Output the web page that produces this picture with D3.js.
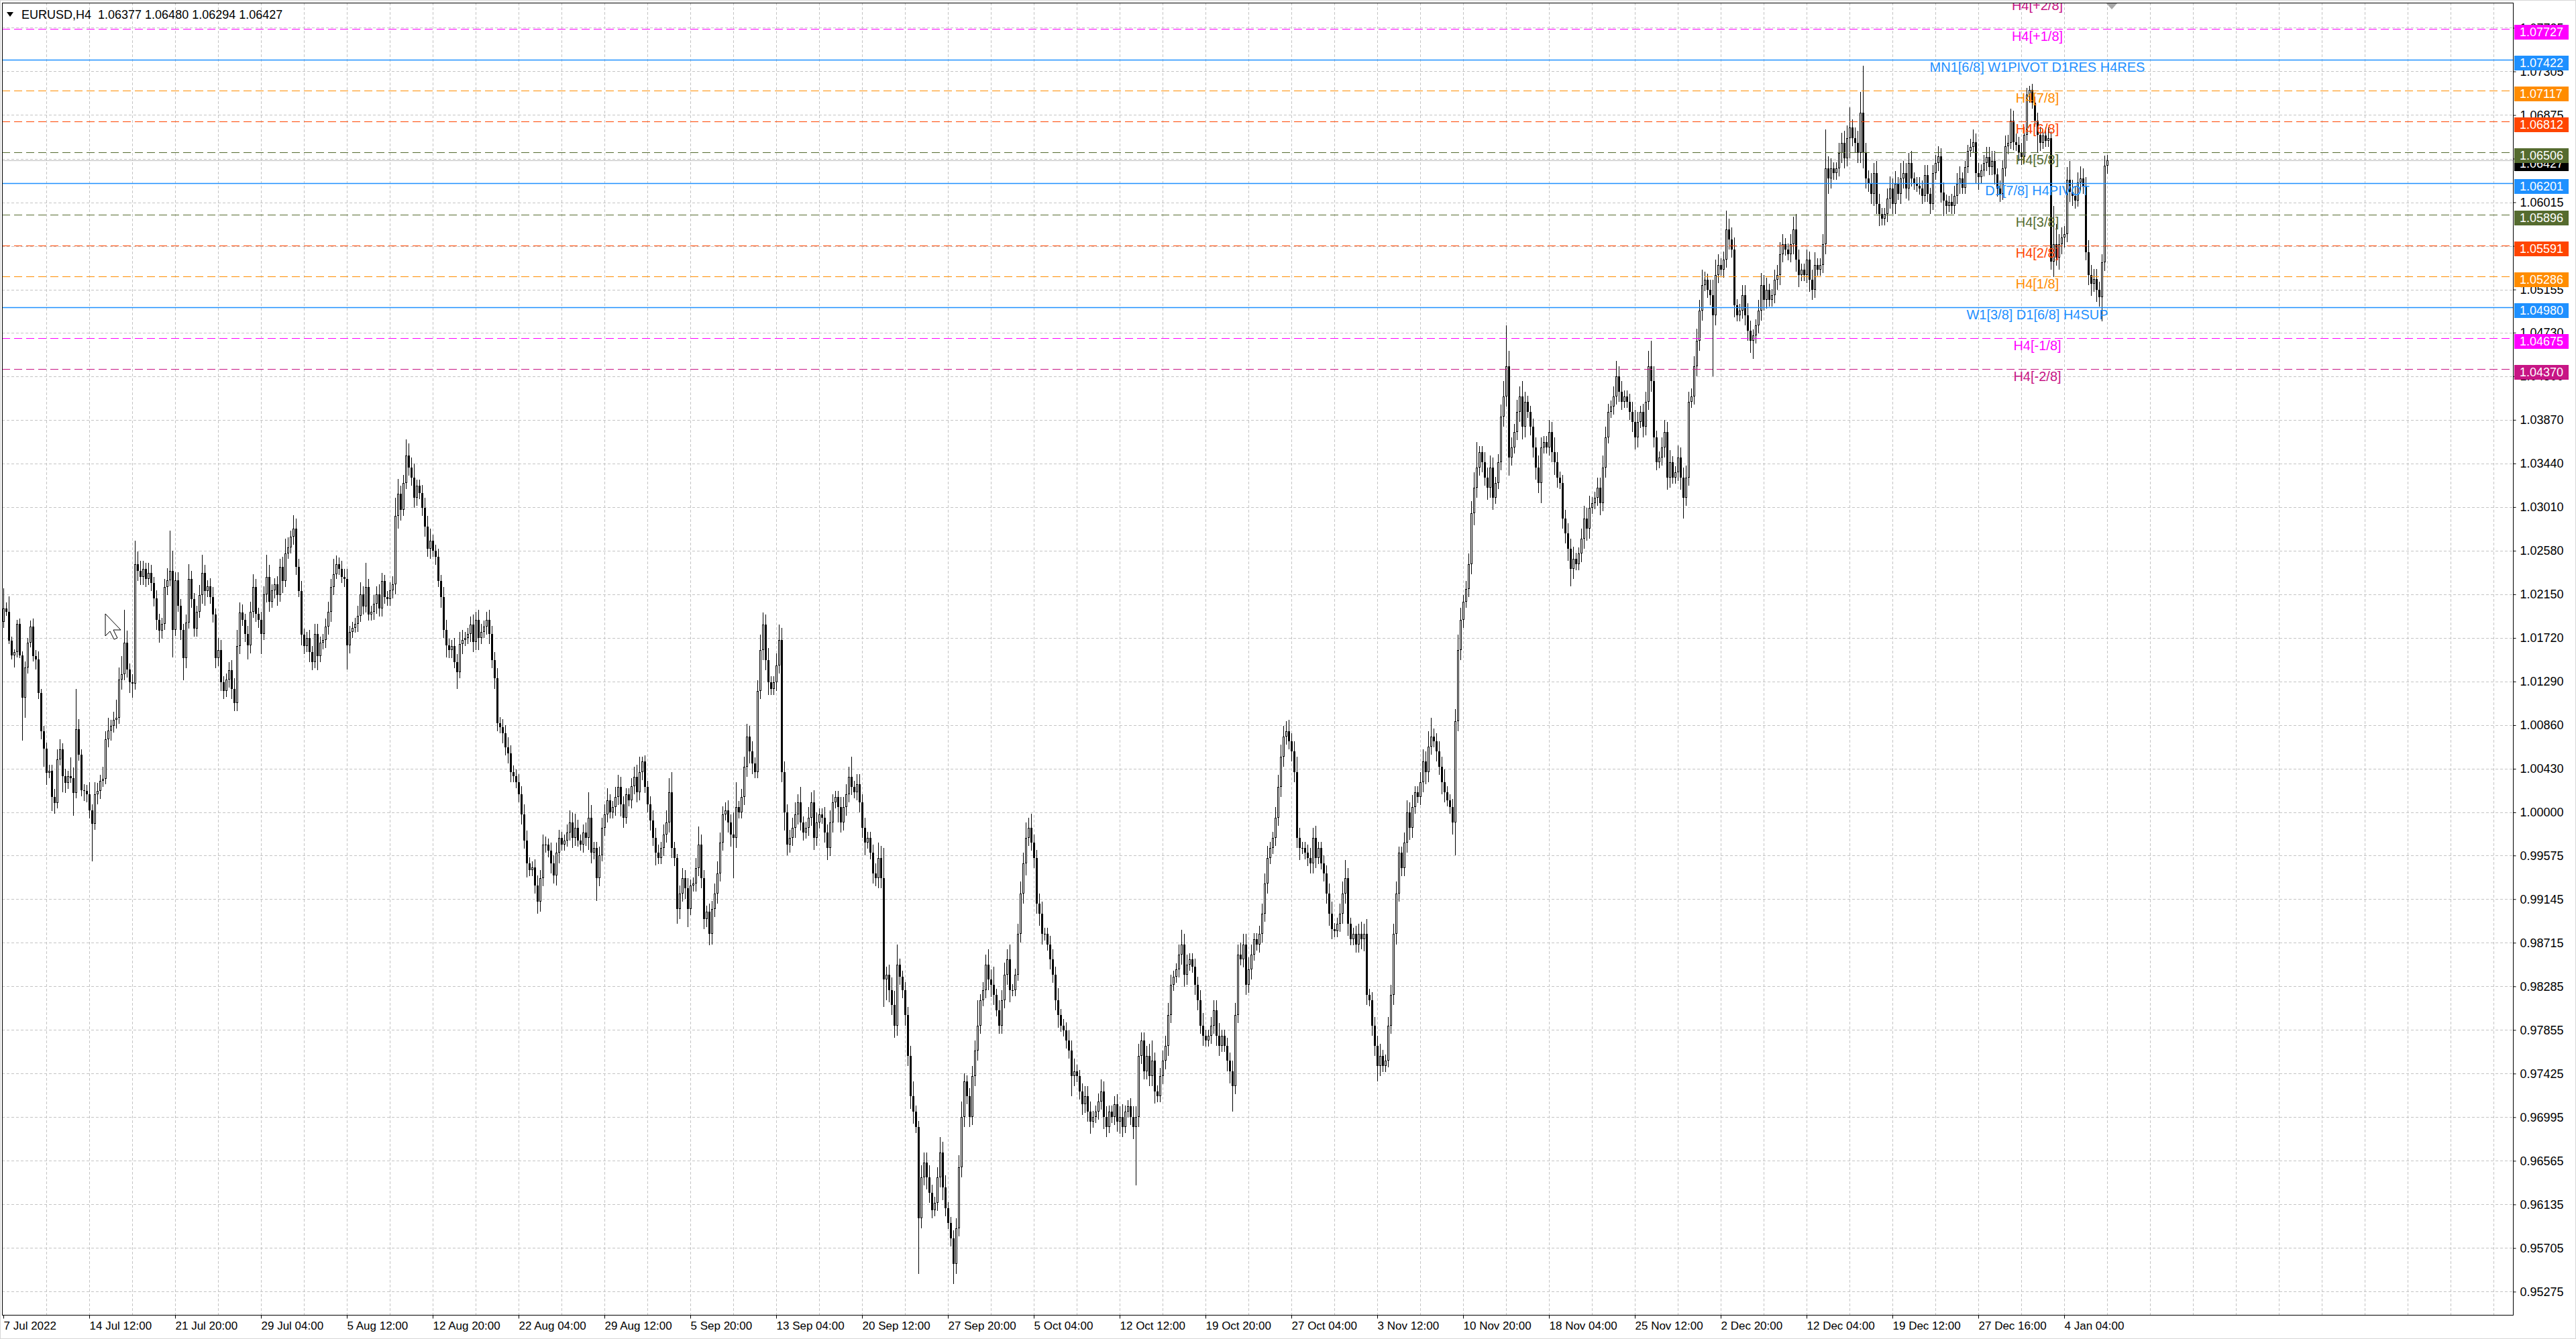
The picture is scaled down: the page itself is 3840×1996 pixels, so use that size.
<!DOCTYPE html>
<html><head><meta charset="utf-8"><title>EURUSD,H4</title>
<script src="https://cdn.jsdelivr.net/npm/d3@7/dist/d3.min.js"></script>
<style>html,body{margin:0;padding:0;background:#fff;overflow:hidden}svg{display:block}</style>
</head><body><script>
// ---------------- DATA ----------------
const symbolTitle = "EURUSD,H4";
const firstOpen = 1.0188;
// H4 closes, one line per trading day (7 Jul 2022 04:00 -> 6 Jan 2023 20:00)
const closes = [
1.0201,1.0198,1.0169,1.0155,1.0158,
1.0186,1.0155,1.0113,1.0143,1.0167,1.0183,
1.0154,1.0151,1.0118,1.0080,1.0063,1.0039,
1.0041,1.0015,1.0009,1.0052,1.0062,1.0036,
1.0029,1.0036,1.0034,1.0019,1.0082,1.0057,
1.0022,1.0021,1.0018,1.0002,0.9989,1.0018,
1.0021,1.0031,1.0033,1.0072,1.0081,1.0085,
1.0091,1.0093,1.0131,1.0136,1.0167,1.0141,
1.0128,1.0127,1.0245,1.0238,1.0232,1.0240,
1.0230,1.0236,1.0226,1.0211,1.0190,1.0179,
1.0186,1.0222,1.0229,1.0238,1.0180,1.0229,
1.0204,1.0180,1.0152,1.0187,1.0230,1.0210,
1.0181,1.0198,1.0214,1.0236,1.0218,1.0223,
1.0212,1.0195,1.0152,1.0160,1.0128,1.0120,
1.0131,1.0140,1.0122,1.0108,1.0164,1.0197,
1.0190,1.0176,1.0165,1.0198,1.0222,1.0196,
1.0190,1.0176,1.0215,1.0232,1.0208,1.0219,
1.0225,1.0214,1.0242,1.0228,1.0255,1.0261,
1.0272,1.0280,1.0242,1.0218,1.0175,1.0164,
1.0172,1.0158,1.0148,1.0176,1.0154,1.0167,
1.0170,1.0183,1.0198,1.0222,1.0235,1.0245,
1.0240,1.0232,1.0230,1.0165,1.0178,1.0182,
1.0186,1.0194,1.0215,1.0203,1.0222,1.0195,
1.0198,1.0206,1.0215,1.0201,1.0228,1.0212,
1.0210,1.0219,1.0225,1.0292,1.0314,1.0298,
1.0325,1.0352,1.0340,1.0330,1.0310,1.0322,
1.0315,1.0300,1.0282,1.0260,1.0268,1.0258,
1.0252,1.0228,1.0212,1.0180,1.0165,1.0160,
1.0164,1.0148,1.0138,1.0166,1.0170,1.0172,
1.0176,1.0185,1.0168,1.0190,1.0172,1.0178,
1.0183,1.0190,1.0176,1.0150,1.0132,1.0088,
1.0084,1.0078,1.0064,1.0058,1.0040,1.0036,
1.0030,1.0018,0.9998,0.9972,0.9950,0.9943,
0.9946,0.9928,0.9912,0.9935,0.9968,0.9968,
0.9962,0.9950,0.9938,0.9960,0.9975,0.9968,
0.9972,0.9980,0.9990,0.9975,0.9985,0.9972,
0.9968,0.9980,0.9975,0.9995,0.9960,0.9965,
0.9935,0.9958,0.9985,0.9998,1.0012,1.0000,
1.0005,1.0015,1.0025,1.0008,0.9995,1.0018,
1.0012,1.0026,1.0035,1.0020,1.0040,1.0050,
1.0025,1.0008,0.9992,0.9975,0.9960,0.9955,
0.9965,0.9978,0.9990,1.0020,0.9965,0.9955,
0.9905,0.9920,0.9935,0.9925,0.9905,0.9928,
0.9930,0.9945,0.9968,0.9935,0.9895,0.9902,
0.9880,0.9905,0.9920,0.9940,0.9970,0.9998,
1.0002,0.9990,0.9978,0.9975,1.0005,1.0000,
1.0015,1.0045,1.0075,1.0060,1.0048,1.0040,
1.0120,1.0160,1.0185,1.0150,1.0128,1.0122,
1.0128,1.0145,1.0170,1.0040,1.0000,0.9968,
0.9975,0.9985,0.9998,1.0010,0.9990,0.9980,
0.9985,0.9995,1.0010,0.9975,0.9990,0.9998,
0.9995,0.9980,0.9965,0.9990,1.0010,1.0015,
1.0005,0.9990,1.0005,1.0018,1.0035,1.0025,
1.0020,1.0028,1.0010,0.9985,0.9970,0.9975,
0.9960,0.9940,0.9935,0.9955,0.9935,0.9835,
0.9840,0.9825,0.9810,0.9790,0.9850,0.9838,
0.9825,0.9800,0.9760,0.9720,0.9705,0.9690,
0.9600,0.9640,0.9655,0.9640,0.9625,0.9608,
0.9615,0.9640,0.9665,0.9630,0.9610,0.9595,
0.9580,0.9555,0.9590,0.9650,0.9700,0.9735,
0.9720,0.9700,0.9740,0.9765,0.9790,0.9815,
0.9825,0.9850,0.9835,0.9830,0.9820,0.9805,
0.9790,0.9815,0.9840,0.9855,0.9825,0.9825,
0.9840,0.9880,0.9920,0.9950,0.9975,0.9985,
0.9970,0.9955,0.9910,0.9900,0.9880,0.9880,
0.9870,0.9855,0.9840,0.9815,0.9800,0.9790,
0.9785,0.9775,0.9765,0.9740,0.9745,0.9740,
0.9725,0.9712,0.9720,0.9705,0.9695,0.9700,
0.9705,0.9715,0.9725,0.9700,0.9690,0.9705,
0.9700,0.9712,0.9695,0.9700,0.9690,0.9705,
0.9710,0.9700,0.9690,0.9700,0.9760,0.9775,
0.9745,0.9760,0.9740,0.9755,0.9725,0.9720,
0.9740,0.9755,0.9770,0.9800,0.9830,0.9838,
0.9845,0.9860,0.9870,0.9840,0.9850,0.9855,
0.9848,0.9830,0.9815,0.9790,0.9780,0.9775,
0.9780,0.9790,0.9805,0.9780,0.9770,0.9780,
0.9770,0.9755,0.9745,0.9730,0.9800,0.9860,
0.9855,0.9870,0.9830,0.9845,0.9860,0.9875,
0.9870,0.9880,0.9900,0.9930,0.9955,0.9965,
0.9975,0.9995,1.0025,1.0055,1.0075,1.0080,
1.0070,1.0060,1.0040,0.9975,0.9965,0.9965,
0.9960,0.9955,0.9950,0.9975,0.9955,0.9965,
0.9950,0.9940,0.9920,0.9900,0.9885,0.9883,
0.9890,0.9900,0.9920,0.9935,0.9890,0.9875,
0.9880,0.9870,0.9880,0.9875,0.9880,0.9820,
0.9815,0.9790,0.9770,0.9750,0.9760,0.9750,
0.9755,0.9790,0.9820,0.9880,0.9920,0.9960,
0.9945,0.9970,1.0000,0.9985,1.0005,1.0020,
1.0015,1.0030,1.0050,1.0040,1.0065,1.0075,
1.0070,1.0060,1.0045,1.0030,1.0020,1.0012,
1.0005,0.9990,1.0090,1.0160,1.0190,1.0208,
1.0220,1.0245,1.0295,1.0320,1.0340,1.0355,
1.0345,1.0330,1.0320,1.0340,1.0310,1.0325,
1.0345,1.0390,1.0410,1.0440,1.0350,1.0360,
1.0375,1.0395,1.0410,1.0380,1.0405,1.0395,
1.0380,1.0360,1.0340,1.0325,1.0360,1.0365,
1.0360,1.0375,1.0355,1.0345,1.0330,1.0325,
1.0290,1.0275,1.0260,1.0240,1.0250,1.0245,
1.0255,1.0270,1.0290,1.0280,1.0300,1.0305,
1.0310,1.0320,1.0305,1.0340,1.0370,1.0395,
1.0400,1.0410,1.0430,1.0415,1.0405,1.0410,
1.0405,1.0395,1.0385,1.0370,1.0385,1.0395,
1.0380,1.0405,1.0440,1.0425,1.0370,1.0345,
1.0350,1.0360,1.0375,1.0330,1.0345,1.0330,
1.0335,1.0350,1.0330,1.0310,1.0330,1.0405,
1.0410,1.0440,1.0465,1.0495,1.0520,1.0525,
1.0515,1.0510,1.0490,1.0530,1.0540,1.0535,
1.0545,1.0575,1.0565,1.0555,1.0500,1.0490,
1.0495,1.0510,1.0490,1.0475,1.0465,1.0470,
1.0480,1.0495,1.0520,1.0505,1.0515,1.0505,
1.0510,1.0525,1.0530,1.0550,1.0560,1.0555,
1.0550,1.0560,1.0575,1.0545,1.0530,1.0535,
1.0530,1.0545,1.0525,1.0515,1.0540,1.0535,
1.0540,1.0560,1.0635,1.0625,1.0635,1.0630,
1.0635,1.0650,1.0660,1.0645,1.0665,1.0675,
1.0665,1.0660,1.0650,1.0690,1.0650,1.0625,
1.0620,1.0610,1.0630,1.0600,1.0590,1.0585,
1.0590,1.0605,1.0615,1.0600,1.0620,1.0610,
1.0625,1.0630,1.0615,1.0640,1.0625,1.0620,
1.0618,1.0615,1.0608,1.0628,1.0610,1.0600,
1.0630,1.0640,1.0647,1.0611,1.0603,1.0598,
1.0602,1.0598,1.0608,1.0620,1.0625,1.0616,
1.0636,
1.0652,1.0656,1.0661,1.0630,1.0626,1.0633,
1.0640,1.0646,1.0636,1.0642,1.0629,1.0615,
1.0610,1.0635,1.0657,1.0660,1.0682,1.0661,
1.0658,1.0650,1.0646,1.0668,1.0708,1.0712,
1.0700,1.0682,1.0668,1.0660,1.0667,
1.0662,1.0665,1.0543,1.0560,1.0547,1.0560,
1.0567,1.0570,1.0624,1.0612,1.0608,1.0603,
1.0621,1.0625,1.0618,1.0552,1.0530,1.0521,
1.0526,1.0515,1.0508,1.0542,1.06377,1.06427
];
// upper shadow above the body, in pips
const upWick = [
20,6,15,4,3,
4,5,4,6,5,6, 8,6,8,4,5,6, 6,6,8,10,10,6, 7,5,18,10,40,10, 5,6,6,12,6,12, 8,6,12,8,12,6,
8,18,12,18,33,12, 6,8,23,12,10,8, 6,10,8,6,8,6, 6,8,12,40,20,8, 8,6,6,8,15,8,
6,6,10,18,8,6, 8,10,6,12,10,6, 6,8,10,10,16,10, 8,6,8,10,13,8, 6,8,8,22,12,6,
6,8,8,10,15,10, 6,13,10,8,10,6, 6,8,6,10,10,6, 6,8,10,8,15,8, 6,8,8,10,6,6,
6,10,12,8,24,8, 6,8,8,10,8,6, 6,8,8,18,15,8, 8,16,12,10,14,6, 6,8,10,10,12,6,
6,8,6,10,10,6, 6,8,8,12,10,6, 6,8,10,8,10,8, 6,8,10,8,8,10, 6,8,8,10,8,6,
6,8,8,10,10,6, 6,8,10,8,10,8, 6,8,8,10,8,6, 6,8,12,10,14,8, 6,8,10,25,12,6,
6,8,10,10,12,6, 6,10,12,10,8,6, 6,8,10,12,15,5, 6,6,8,10,10,8, 6,10,12,14,20,6,
4,8,10,8,10,6, 6,10,18,10,8,6, 8,8,10,12,10,8, 8,10,8,22,25,6, 8,10,12,10,10,6,
10,15,12,10,12,6, 6,12,15,12,10,8, 8,10,12,8,15,6, 6,10,10,12,10,6, 6,10,8,12,8,6,
6,10,10,10,10,20, 6,10,10,8,10,6, 6,8,10,15,12,30, 8,10,12,14,20,6, 6,8,8,10,15,6,
6,12,10,10,12,8, 6,10,15,10,12,6, 6,8,10,12,15,8, 6,8,10,10,25,6, 8,10,15,10,18,6,
10,10,12,10,15,6, 6,10,12,10,15,10, 14,8,8,10,12,6, 6,8,10,8,12,6, 6,8,10,10,12,6,
6,8,10,10,10,6, 6,8,12,10,10,6, 6,8,10,10,12,6, 6,8,10,10,12,8, 8,10,12,20,8,6,
8,10,10,12,10,6, 6,10,14,10,10,6, 6,8,8,10,12,6, 6,8,10,10,12,6, 6,8,8,10,12,10,
12,10,10,12,10,6, 6,8,10,10,12,6, 6,10,12,12,10,10, 11,8,10,15,10,6, 6,8,10,10,12,6,
6,8,8,10,12,6, 6,10,12,18,10,6, 6,8,10,12,10,15, 6,8,8,10,12,6, 6,8,10,10,12,6,
6,10,12,10,12,6, 6,10,12,10,15,18, 8,8,10,10,12,6, 6,8,12,15,12,6, 8,10,12,15,25,6,
6,10,10,12,10,6, 8,12,15,40,15,10, 8,12,10,15,10,6, 6,8,10,12,10,6, 6,12,10,15,10,6,
8,8,10,10,12,6, 6,10,12,10,12,6, 6,10,10,12,10,8, 6,10,15,10,10,6, 6,8,10,12,10,6,
8,10,15,25,15,6, 6,10,12,10,12,6, 6,12,10,10,12,10, 8,10,12,10,15,8, 6,10,15,15,10,6,
8,18,10,12,12,6, 6,10,10,12,10,6, 6,10,12,10,12,6, 6,10,10,12,10,6, 6,10,12,15,10,6,
6,10,8,10,12,6, 6,10,38,12,10,6, 6,10,10,12,12,20, 8,10,12,20,46,10, 8,10,10,12,10,6,
6,10,12,10,12,6, 15,12,10,10,12,6, 6,8,8,10,10,6, 8,8,10,8,10,6, 6,8,10,10,12,6,
6,
6,8,12,8,10,6, 8,10,10,10,10,6, 8,8,10,8,12,10, 8,8,10,8,6,4,
6,6,8,8,6,
8,10,6,38,20,10, 10,8,12,18,12,10, 10,12,10,8,12,10, 10,10,8,8,10,5.3
];
// lower shadow below the body, in pips
const downWick = [
6,4,3,4,12,
5,3,42,20,6,4, 5,10,6,8,18,12, 5,14,10,5,6,16, 10,6,5,22,5,6, 6,10,8,8,37,6, 10,8,6,5,8,10,
6,8,6,10,6,8, 10,14,6,10,8,8, 8,6,8,8,10,12, 8,6,8,6,27,6, 6,10,22,10,6,8,
8,8,6,8,14,6, 6,8,10,8,8,8, 6,8,10,8,8,8, 6,8,14,8,6,8, 8,20,6,8,10,6,
8,10,6,12,6,5, 6,8,8,6,10,8, 6,10,8,6,14,6, 6,8,8,10,8,5, 6,6,8,24,8,6,
5,8,6,8,6,6, 6,8,10,8,8,6, 6,6,8,10,12,10, 6,6,8,8,10,8, 6,8,10,8,10,6,
8,6,10,8,12,8, 8,6,16,6,10,6, 6,8,10,8,12,6, 6,8,10,8,10,8, 6,10,8,10,10,6,
6,8,10,8,14,6, 6,8,12,10,8,8, 6,10,8,10,10,6, 6,6,8,10,8,6, 6,8,8,12,10,6,
22,8,6,8,8,6, 6,8,8,12,10,6, 6,8,8,10,8,8, 6,8,10,8,12,6, 6,8,8,10,10,8,
15,10,8,10,18,6, 6,8,8,10,10,8, 11,10,8,10,8,8, 6,10,12,40,10,6, 6,8,10,12,10,6,
6,8,10,10,12,6, 6,8,8,10,18,10, 8,8,10,10,8,8, 6,8,8,12,8,6, 6,10,12,8,10,6,
15,10,8,8,8,8, 6,8,10,10,12,6, 6,10,8,10,10,27, 20,12,10,12,10,8, 8,10,10,12,12,6,
55,10,8,12,10,8, 6,8,10,12,8,6, 8,20,10,8,10,10, 8,10,8,10,10,8, 6,8,10,12,10,6,
8,8,8,10,12,6, 6,6,8,10,12,8, 8,10,10,12,10,6, 6,10,8,10,12,6, 6,8,8,20,10,6,
8,10,8,10,12,6, 6,8,8,12,10,6, 6,8,10,12,10,6, 6,8,12,58,10,8, 8,8,10,10,12,6,
6,8,8,10,8,6, 6,8,10,12,10,6, 6,10,10,8,10,6, 6,8,8,10,10,6, 6,10,12,25,8,8,
6,8,10,8,10,6, 6,8,8,8,10,6, 6,8,8,10,10,8, 8,10,10,10,12,6, 6,8,10,10,10,6,
6,8,10,12,10,6, 6,8,10,10,12,6, 6,8,8,10,12,10, 6,10,10,15,10,6, 6,6,8,10,10,8,
8,8,10,12,10,6, 6,8,10,12,10,8, 6,10,8,12,10,6, 6,12,32,10,10,8, 6,8,10,12,10,8,
10,8,12,10,12,6, 6,8,10,10,18,8, 6,8,10,12,10,6, 8,10,12,10,20,6, 6,8,10,12,10,6,
10,10,12,17,10,6, 6,8,10,12,10,6, 6,8,12,8,10,6, 6,8,8,10,8,6, 6,8,10,12,10,6,
10,8,8,10,10,8, 6,8,10,12,10,6, 6,8,12,20,8,8, 6,8,10,10,10,6, 8,10,60,10,8,6,
8,8,10,8,12,6, 6,8,10,10,12,18, 8,8,10,10,8,6, 6,8,10,10,8,6, 6,8,10,12,12,6,
6,8,12,10,8,6, 6,8,10,15,10,6, 6,8,10,10,8,20, 8,10,10,10,15,10, 8,10,12,10,12,6,
6,8,10,10,10,6, 10,10,10,12,8,6, 6,6,8,6,8,10, 6,6,8,10,15,8, 6,8,8,8,10,6,
6,
6,6,6,10,12,6, 6,8,8,8,10,8, 8,6,8,8,6,8, 6,8,8,6,6,8,
6,6,17,8,6,
6,6,8,15,8,12, 10,10,8,10,10,8, 6,8,8,8,10,12, 8,12,9,24,8,8.3
];
const dateLabels = ["7 Jul 2022","14 Jul 12:00","21 Jul 20:00","29 Jul 04:00","5 Aug 12:00","12 Aug 20:00",
 "22 Aug 04:00","29 Aug 12:00","5 Sep 20:00","13 Sep 04:00","20 Sep 12:00","27 Sep 20:00","5 Oct 04:00",
 "12 Oct 12:00","19 Oct 20:00","27 Oct 04:00","3 Nov 12:00","10 Nov 20:00","18 Nov 04:00","25 Nov 12:00",
 "2 Dec 20:00","12 Dec 04:00","19 Dec 12:00","27 Dec 16:00","4 Jan 04:00"];
const barsPerLabel = 32;
const priceTicks = [1.07735,1.07305,1.06875,1.06445,1.06015,1.05585,1.05155,1.04730,1.04300,1.03870,1.03440,
 1.03010,1.02580,1.02150,1.01720,1.01290,1.00860,1.00430,1.00000,0.99575,0.99145,0.98715,0.98285,0.97855,
 0.97425,0.96995,0.96565,0.96135,0.95705,0.95275];
const levelNames = ["H4[+2/8]","H4[+1/8]","MN1[6/8] W1PIVOT D1RES H4RES","H4[7/8]","H4[6/8]","H4[5/8]",
 "D1[7/8] H4PIVOT","H4[3/8]","H4[2/8]","H4[1/8]","W1[3/8] D1[6/8] H4SUP","H4[-1/8]","H4[-2/8]"];
const levelPrices = [1.08032,1.07727,1.07422,1.07117,1.06812,1.06506,1.06201,1.05896,1.05591,1.05286,1.04980,1.04675,1.04370];

// ---------------- STYLE ----------------
const levelColors = ["#C71585","#FF00FF","#1E90FF","#FF8C00","#FF4500","#556B2F","#1E90FF","#556B2F","#FF4500","#FF8C00","#1E90FF","#FF00FF","#C71585"];
const levelSolid  = [false,false,true,false,false,false,true,false,false,false,true,false,false];
const FONT = "'Liberation Sans', Arial, sans-serif";
const W = 3840, H = 1996;
const P = {l:3, t:4, r:3746, b:1960};

// ---------------- CHART ----------------
const n = closes.length;
const x = d3.scaleLinear().domain([0, n-1]).range([5, 5 + 4*(n-1)]);
const y = d3.scaleLinear().domain([0.950463, 1.079828]).range([P.b, P.t]);

const candles = closes.map((c,i)=>{
  const o = i ? closes[i-1] : firstOpen;
  return {i, o, c, h: Math.max(o,c) + upWick[i]/1e4, l: Math.min(o,c) - downWick[i]/1e4};
});
const last = candles[n-1];

const svg = d3.select("body").append("svg").attr("width",W).attr("height",H)
  .style("font-family",FONT);
svg.append("rect").attr("width",W).attr("height",H).attr("fill","#fff");
svg.append("rect").attr("x",0.5).attr("y",0.5).attr("width",W-1).attr("height",H-1)
  .attr("fill","none").attr("stroke","#d6d6d6");

svg.append("defs").append("clipPath").attr("id","plotClip").append("rect")
  .attr("x",P.l).attr("y",P.t).attr("width",P.r-P.l).attr("height",P.b-P.t);
const plot = svg.append("g").attr("clip-path","url(#plotClip)");

// grid
const grid = plot.append("g").attr("stroke","#c4c4c4").attr("stroke-dasharray","4,3");
grid.selectAll("line.h").data(priceTicks).join("line").attr("class","h")
  .attr("x1",P.l).attr("x2",P.r)
  .attr("y1",d=>Math.round(y(d))+0.5).attr("y2",d=>Math.round(y(d))+0.5);
const vBars = d3.range(16, Math.floor(x.invert(P.r))+1, 16);
grid.selectAll("line.v").data(vBars).join("line").attr("class","v")
  .attr("x1",d=>Math.round(x(d))+0.5).attr("x2",d=>Math.round(x(d))+0.5)
  .attr("y1",P.t).attr("y2",P.b);

// bid line
plot.append("line").attr("x1",P.l).attr("x2",P.r)
  .attr("y1",Math.round(y(last.c))+0.5).attr("y2",Math.round(y(last.c))+0.5)
  .attr("stroke","#c0c0c0");

// candles
const cg = plot.append("g").attr("shape-rendering","crispEdges");
cg.selectAll("rect.wick").data(candles).join("rect").attr("class","wick")
  .attr("x",d=>Math.round(x(d.i))).attr("width",1)
  .attr("y",d=>Math.round(y(d.h)))
  .attr("height",d=>Math.max(1, Math.round(y(d.l))-Math.round(y(d.h))))
  .attr("fill","#000");
const bodyTop = d=>Math.round(y(Math.max(d.o,d.c)));
const bodyH = d=>Math.max(1, Math.round(y(Math.min(d.o,d.c))) - bodyTop(d));
cg.selectAll("rect.body").data(candles).join("rect").attr("class","body")
  .attr("x",d=>Math.round(x(d.i))-1).attr("width",3)
  .attr("y",bodyTop).attr("height",bodyH).attr("fill","#000");
cg.selectAll("rect.in").data(candles.filter(d=>d.c>d.o && bodyH(d)>2)).join("rect").attr("class","in")
  .attr("x",d=>Math.round(x(d.i))).attr("width",1)
  .attr("y",d=>bodyTop(d)+1).attr("height",d=>bodyH(d)-2).attr("fill","#fff");

// level lines and captions
const lv = plot.append("g");
levelPrices.forEach((p,k)=>{
  const yy = y(p);
  const ly = Math.round(yy) + 0.5;
  lv.append("line").attr("x1",P.l).attr("x2",P.r).attr("y1",ly).attr("y2",ly)
    .attr("stroke",levelColors[k]).attr("stroke-width",levelSolid[k]?1.6:1.2)
    .attr("stroke-dasharray",levelSolid[k]?null:"12,6");
  lv.append("text").attr("x",x(758)).attr("y",yy+18).attr("text-anchor","middle")
    .attr("font-size",20).attr("fill",levelColors[k]).text(levelNames[k]);
});

// mouse cursor & shift marker
svg.append("path").attr("d","M157,915 L157,948 L164,941 L170,953 L175,951 L169,939 L180,939 Z")
  .attr("fill","#fff").attr("stroke","#000").attr("stroke-width",1);
svg.append("path").attr("d","M3140,5 L3156,5 L3148,14 Z").attr("fill","#a8a8a8");

// frame
svg.append("rect").attr("x",P.l+0.5).attr("y",P.t+0.5).attr("width",P.r-P.l).attr("height",P.b-P.t)
  .attr("fill","none").attr("stroke","#000").attr("shape-rendering","crispEdges");

// price axis
const ay = svg.append("g").attr("transform",`translate(${P.r+0.5},0)`)
  .call(d3.axisRight(y).tickValues(priceTicks).tickFormat(d=>d.toFixed(5))
    .tickSize(4).tickSizeOuter(0).tickPadding(6));
ay.select(".domain").remove();
ay.attr("font-family",FONT).attr("font-size",18);
ay.selectAll("text").attr("fill","#000");
ay.selectAll("line").attr("stroke","#000");

// time axis
const labelBars = d3.range(0, n, barsPerLabel).slice(0, dateLabels.length);
const ax = svg.append("g").attr("transform",`translate(0,${P.b+0.5})`)
  .call(d3.axisBottom(x).tickValues(labelBars).tickFormat((d,i)=>dateLabels[i])
    .tickSize(5).tickSizeOuter(0).tickPadding(4));
ax.select(".domain").remove();
ax.attr("font-family",FONT).attr("font-size",17);
ax.selectAll("text").attr("text-anchor","start").attr("x",0).attr("fill","#000");
ax.selectAll("line").attr("stroke","#000");

// price tags on the axis (drawn slightly below their level, as in the terminal)
const tags = svg.append("g");
function tag(p, col){
  const yy = Math.round(y(p)) + 5;
  tags.append("rect").attr("x",P.r+2).attr("y",yy-11).attr("width",81).attr("height",22).attr("fill",col);
  tags.append("text").attr("x",P.r+10).attr("y",yy).attr("dy","0.35em").attr("font-size",18)
    .attr("fill","#fff").text(p.toFixed(5));
}
tag(last.c, "#000");
levelPrices.forEach((p,k)=>{ if (p < y.domain()[1]) tag(p, levelColors[k]); });

// title
svg.append("path").attr("d","M10,18 L20,18 L15,25 Z").attr("fill","#000");
svg.append("text").attr("x",32).attr("y",28).attr("font-size",18).attr("fill","#000")
  .style("white-space","pre")
  .text(`${symbolTitle}  ${last.o.toFixed(5)} ${last.h.toFixed(5)} ${last.l.toFixed(5)} ${last.c.toFixed(5)}`);
</script></body></html>
